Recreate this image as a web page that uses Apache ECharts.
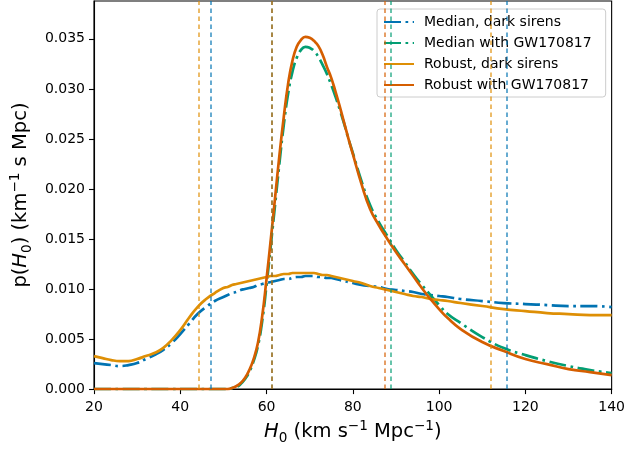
<!DOCTYPE html>
<html>
<head>
<meta charset="utf-8">
<script src="https://cdn.jsdelivr.net/npm/echarts@6/dist/echarts.min.js"></script>
<style>html,body{margin:0;padding:0;background:#fff}#c{width:628px;height:450px}</style>
</head>
<body>
<div id="c"></div>
<script>
// H0 grid (km s^-1 Mpc^-1)
const H0 = [20,22,24,26,28,30,32,34,36,38,40,42,44,46,48,50,
  51,52,53,54,55,56,57,58,59,60,61,62,63,64,65,66,67,68,69,70,71,72,73,74,75,76,77,78,79,80,
  82,84,86,88,90,92,94,96,98,100,102,105,110,115,120,125,130,135,140];

const medianDark = [.0026,.0025,.0024,.0023,.0024,.0026,.0030,.0034,.0039,.0046,.0055,.0065,.0075,.0082,.0088,.0092,
  .0094,.0096,.0097,.0099,.0100,.0101,.0102,.0104,.0105,.0106,.0107,.0108,.0109,.0110,.0110,.0111,.0112,.0112,.0113,.0113,.0113,.0112,.0112,.0111,.0111,.0110,.0109,.0108,.0107,.0106,
  .0104,.0103,.0102,.0100,.0099,.0098,.0097,.0095,.0094,.0093,.0092,.0090,.0088,.0086,.0085,.0084,.0083,.0083,.0082];

const medianGW = [0,0,0,0,0,0,0,0,0,0,0,0,0,0,0,0,
  0,.0001,.0002,.0005,.0010,.0017,.0028,.0043,.0068,.0104,.0144,.0185,.0226,.0264,.0295,.0317,.0331,.0339,.0342,.0341,.0338,.0332,.0324,.0315,.0304,.0292,.0279,.0265,.0250,.0236,
  .0208,.0184,.0167,.0153,.0139,.0127,.0115,.0104,.0094,.0084,.0075,.0066,.0052,.0041,.0034,.0028,.0023,.0019,.0016];

const robustDark = [.0033,.0031,.0029,.0028,.0028,.0030,.0033,.0036,.0041,.0049,.0059,.0071,.0082,.0090,.0096,.0101,
  .0102,.0104,.0105,.0106,.0107,.0108,.0109,.0110,.0111,.0112,.0113,.0113,.0114,.0115,.0115,.0116,.0116,.0116,.0116,.0116,.0116,.0115,.0114,.0114,.0113,.0112,.0111,.0110,.0109,.0108,
  .0106,.0103,.0101,.0099,.0097,.0095,.0093,.0092,.0090,.0089,.0088,.0086,.0083,.0080,.0078,.0076,.0075,.0074,.0074];

const robustGW = [0,0,0,0,0,0,0,0,0,0,0,0,0,0,0,0,
  0,.0001,.0003,.0006,.0011,.0019,.0030,.0046,.0073,.0110,.0150,.0192,.0234,.0272,.0305,.0328,.0342,.0349,.0352,.0351,.0348,.0343,.0334,.0322,.0311,.0297,.0282,.0266,.0250,.0235,
  .0205,.0180,.0164,.0150,.0137,.0125,.0113,.0101,.0090,.0080,.0071,.0060,.0047,.0038,.0030,.0025,.0020,.0017,.0014];

// credible interval bounds (vertical dashed lines)
const boundsMedianDark = [47.1, 115.8];
const boundsMedianGW = [61.3, 88.8];
const boundsRobustDark = [44.2, 111.9];
const boundsRobustGW = [61.1, 87.5];

const seriesNames = ['Median, dark sirens','Median with GW170817','Robust, dark sirens','Robust with GW170817'];
const xTicks = [20,40,60,80,100,120,140];
const yTicks = [0,0.005,0.010,0.015,0.020,0.025,0.030,0.035];

const C = {blue:'#0173b2', green:'#029e73', orange:'#de8f05', red:'#d55e00'};
const FONT = 'DejaVu Sans';
const dashDot = [17,4.5,2.7,4.5];

function pairs(ys){ return H0.map((x,i)=>[x,ys[i]]); }
function vlines(vals,color){
  return {silent:true, symbol:['none','none'], label:{show:false},
    lineStyle:{type:[4.5,3.5], width:1.5, color:color, opacity:0.8},
    emphasis:{disabled:true},
    data: vals.map(v=>({xAxis:v}))};
}
function mk(name, ys, color, dash, bounds){
  return {name, type:'line', data:pairs(ys), symbol:'none', smooth:0.5,
    lineStyle:{color, width:2.7, type:dash, cap:'butt', join:'round'}, itemStyle:{color},
    markLine: vlines(bounds,color), animation:false};
}

const chart = echarts.init(document.getElementById('c'), null, {renderer:'canvas'});
const subsup = {
  t:{fontFamily:FONT, fontSize:19.5, color:'#000', lineHeight:26, verticalAlign:'middle'},
  i:{fontFamily:FONT, fontSize:19.5, fontStyle:'italic', color:'#000', lineHeight:26, verticalAlign:'middle'},
  sub:{fontFamily:FONT, fontSize:13.6, color:'#000', lineHeight:14, verticalAlign:'bottom'},
  sup:{fontFamily:FONT, fontSize:13.6, color:'#000', lineHeight:14, verticalAlign:'top'}
};
chart.setOption({
  animation:false,
  backgroundColor:'#fff',
  grid:{left:89.5, right:15.5, top:1, bottom:59, show:true, borderColor:'#000', borderWidth:1.1, backgroundColor:'transparent'},
  legend:{
    data:seriesNames, orient:'vertical', left:377, top:9,
    padding:[5,14,4,6], itemGap:5, itemWidth:30, itemHeight:14,
    backgroundColor:'rgba(255,255,255,0.85)', borderColor:'#cccccc', borderWidth:1, borderRadius:3,
    itemStyle:{opacity:0},
    textStyle:{fontFamily:FONT, fontSize:14, color:'#000', lineHeight:16, padding:[0,0,0,5]},
    selectedMode:false
  },
  xAxis:{
    type:'value', min:20, max:140, interval:20,
    axisLine:{show:true, lineStyle:{color:'#000', width:1.1}},
    axisTick:{show:true, inside:false, length:5, lineStyle:{color:'#000', width:1.1}},
    axisLabel:{fontFamily:FONT, fontSize:14, color:'#000', margin:11,
      formatter:v=> xTicks.includes(v)? String(v):''},
    splitLine:{show:false},
    name:'{i|H}{sub|0}{t| (km s}{sup|−1}{t| Mpc}{sup|−1}{t|)}',
    nameLocation:'middle', nameGap:27,
    nameTextStyle:{rich:subsup}
  },
  yAxis:{
    type:'value', min:0, max:0.03878, interval:0.005,
    axisLine:{show:true, lineStyle:{color:'#000', width:1.1}},
    axisTick:{show:true, inside:false, length:5, lineStyle:{color:'#000', width:1.1}},
    axisLabel:{fontFamily:FONT, fontSize:14, color:'#000', margin:9, showMaxLabel:false,
      formatter:v=>{ const k=yTicks.findIndex(t=>Math.abs(t-v)<1e-9); return k>=0? yTicks[k].toFixed(3):''; }},
    splitLine:{show:false},
    name:'{t|p(}{i|H}{sub|0}{t|) (km}{sup|−1}{t| s Mpc)}',
    nameLocation:'middle', nameGap:53,
    nameTextStyle:{rich:subsup}
  },
  series:[
    mk(seriesNames[0], medianDark, C.blue, dashDot, boundsMedianDark),
    mk(seriesNames[1], medianGW, C.green, dashDot, boundsMedianGW),
    mk(seriesNames[2], robustDark, C.orange, 'solid', boundsRobustDark),
    mk(seriesNames[3], robustGW, C.red, 'solid', boundsRobustGW)
  ]
});
</script>
</body>
</html>
